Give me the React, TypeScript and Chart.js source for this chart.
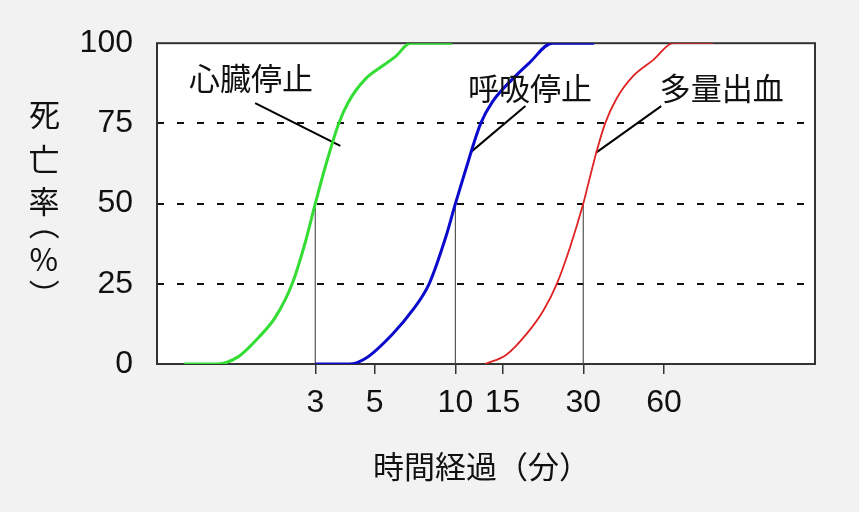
import React, { useEffect, useRef } from 'react';
import { Chart, registerables } from 'chart.js';

Chart.register(...registerables);

// ---- axis ticks ----
const xTickValues = [3, 5, 10, 15, 30, 60];
const yTickValues = [0, 25, 50, 75, 100];
const xMin = 0.77;
const xMax = 219.7;

// ---- 心臓停止 (cardiac arrest) ----
const cardiacMinutes = [0.97, 1.29, 1.55, 1.84, 2.13, 2.46, 2.75, 3, 3.27, 3.67, 3.99, 4.61, 5.32, 5.97, 6.79, 9.73];
const cardiacRate = [0, 0, 2.3, 8.2, 14.6, 25, 37.8, 50, 61.5, 75, 81.7, 88.8, 92.8, 95.8, 100, 100];

// ---- 呼吸停止 (respiratory arrest) ----
const respMinutes = [3.0, 4.02, 4.63, 5.82, 6.91, 7.98, 9.2, 10, 10.78, 12.43, 13.74, 16.32, 18.84, 23.0, 32.9];
const respRate = [0, 0, 1.8, 9.3, 16.7, 25, 39.5, 50, 59, 75, 81.7, 88.8, 93.8, 100, 100];

// ---- 多量出血 (massive bleeding) ----
const bleedMinutes = [12.9, 15.5, 18.4, 21.3, 23.9, 26.8, 30, 31.8, 33.6, 36.2, 39.9, 46.1, 54.8, 65.0, 91.7];
const bleedRate = [0, 2.9, 9.3, 16.7, 25, 36.5, 50, 58.4, 66.1, 75, 82.7, 89.8, 94.8, 100, 100];

// ---- 50% drop lines ----
const dropMinutes = [3, 10, 30];
const dropRate = 50;

// ---- curve labels and leader lines (data coordinates) ----
const curveLabels = ['心臓停止', '呼吸停止', '多量出血'];
const labelMinutes = [1.72, 19.05, 99.0];
const labelRates = [88.9, 85.8, 85.8];
const leaderFromMinutes = [1.79, 18.25, 58.6];
const leaderFromRates = [81.3, 80.4, 80.4];
const leaderToMinutes = [3.72, 11.47, 33.5];
const leaderToRates = [68, 66.2, 65.9];

const xTitle = '時間経過（分）';
const yTitle = '死亡率（%）';

const GREEN = '#33dd33';
const BLUE = '#0a0acc';
const RED = '#e02222';
const BG = '#f2f2f2';
const CJK = '"Noto Sans CJK JP", "Noto Sans CJK SC", sans-serif';
const LATIN = '"Liberation Sans", Arial, sans-serif';

function drawInkCentered(ctx: CanvasRenderingContext2D, text: string, cx: number, cy: number, rot = 0) {
  ctx.save();
  ctx.translate(cx, cy);
  if (rot) ctx.rotate(rot);
  ctx.textAlign = 'left';
  ctx.textBaseline = 'alphabetic';
  const m = ctx.measureText(text);
  const ix = (m.actualBoundingBoxRight - m.actualBoundingBoxLeft) / 2;
  const iy = (m.actualBoundingBoxDescent - m.actualBoundingBoxAscent) / 2;
  ctx.fillText(text, -ix, -iy);
  ctx.restore();
}

const toPts = (xs: number[], ys: number[]) => xs.map((x, i) => ({ x, y: ys[i] }));

export default function App() {
  const ref = useRef<HTMLCanvasElement>(null);

  useEffect(() => {
    const canvas = ref.current;
    if (!canvas) return;

    const curve = { pointRadius: 0, cubicInterpolationMode: 'monotone' as const, fill: false };
    const straight = { pointRadius: 0, tension: 0, fill: false };

    const datasets: any[] = [
      { data: toPts(cardiacMinutes, cardiacRate), borderColor: GREEN, borderWidth: 3, ...curve },
      { data: toPts(respMinutes, respRate), borderColor: BLUE, borderWidth: 3, ...curve },
      { data: toPts(bleedMinutes, bleedRate), borderColor: RED, borderWidth: 1.8, ...curve },
      ...curveLabels.map((_, i) => ({
        data: [
          { x: leaderFromMinutes[i], y: leaderFromRates[i] },
          { x: leaderToMinutes[i], y: leaderToRates[i] },
        ],
        borderColor: '#000',
        borderWidth: 2,
        ...straight,
      })),
      ...dropMinutes.map((m) => ({
        data: [
          { x: m, y: 0 },
          { x: m, y: dropRate },
        ],
        borderColor: '#555',
        borderWidth: 1.2,
        ...straight,
      })),
    ];

    const decor = {
      id: 'decor',
      beforeDraw(chart: any) {
        const { ctx, chartArea: a, width, height } = chart;
        ctx.save();
        ctx.fillStyle = BG;
        ctx.fillRect(0, 0, width, height);
        ctx.fillStyle = '#fff';
        ctx.fillRect(a.left, a.top, a.right - a.left, a.bottom - a.top);
        ctx.restore();
      },
      beforeDatasetsDraw(chart: any) {
        const { ctx, chartArea: a } = chart;
        ctx.save();
        ctx.strokeStyle = '#333';
        ctx.lineWidth = 2;
        ctx.strokeRect(a.left, a.top, a.right - a.left, a.bottom - a.top);
        ctx.restore();
      },
      afterDatasetsDraw(chart: any) {
        const { ctx } = chart;
        const xs = chart.scales.x;
        const ys = chart.scales.y;
        ctx.save();
        ctx.fillStyle = '#111';
        ctx.font = `31px ${CJK}`;
        curveLabels.forEach((t, i) => {
          drawInkCentered(ctx, t, xs.getPixelForValue(labelMinutes[i]), ys.getPixelForValue(labelRates[i]));
        });
        ctx.restore();
      },
      afterDraw(chart: any) {
        const { ctx, chartArea: a } = chart;
        ctx.save();
        ctx.fillStyle = '#111';
        ctx.font = `31px ${CJK}`;
        drawInkCentered(ctx, xTitle, (a.left + a.right) / 2 - 14, a.bottom + 102);
        const chars = Array.from(yTitle);
        const offs = [-88, -45, -2, 31, 56, 81];
        const cy = (a.top + a.bottom) / 2;
        chars.forEach((c, i) => {
          const rot = c === '（' || c === '）' ? Math.PI / 2 : 0;
          drawInkCentered(ctx, c, 44, cy + offs[i], rot);
        });
        ctx.restore();
      },
    };

    const chart = new Chart(canvas, {
      type: 'line',
      data: { datasets },
      plugins: [decor],
      options: {
        animation: false,
        responsive: false,
        devicePixelRatio: 1,
        layout: { padding: { top: 41, right: 44, left: 0, bottom: 0 } },
        plugins: { legend: { display: false }, tooltip: { enabled: false } },
        scales: {
          x: {
            type: 'logarithmic',
            min: xMin,
            max: xMax,
            afterBuildTicks: (s: any) => {
              s.ticks = xTickValues.map((v) => ({ value: v }));
            },
            afterFit: (s: any) => {
              s.height = 148;
            },
            ticks: {
              autoSkip: false,
              maxRotation: 0,
              callback: (v: any) => String(v),
              font: { family: LATIN, size: 32 },
              color: '#111',
              padding: 10,
            },
            grid: { drawOnChartArea: false, drawTicks: true, tickLength: 10, color: '#333', lineWidth: 1.5 },
            border: { display: false },
          },
          y: {
            type: 'linear',
            min: 0,
            max: 100,
            afterBuildTicks: (s: any) => {
              s.ticks = yTickValues.map((v) => ({ value: v }));
            },
            afterFit: (s: any) => {
              s.width = 157;
            },
            ticks: { font: { family: LATIN, size: 32 }, color: '#111', padding: 24 },
            grid: {
              drawTicks: false,
              lineWidth: 2,
              color: (c: any) => (c.tick && (c.tick.value === 0 || c.tick.value === 100) ? 'rgba(0,0,0,0)' : '#111'),
            },
            border: { display: false, dash: [7, 13] },
          },
        },
      } as any,
    });

    return () => chart.destroy();
  }, []);

  return (
    <div style={{ position: 'fixed', left: 0, top: 0, width: 859, height: 512, background: BG }}>
      <canvas ref={ref} width={859} height={512} style={{ display: 'block' }} />
    </div>
  );
}
